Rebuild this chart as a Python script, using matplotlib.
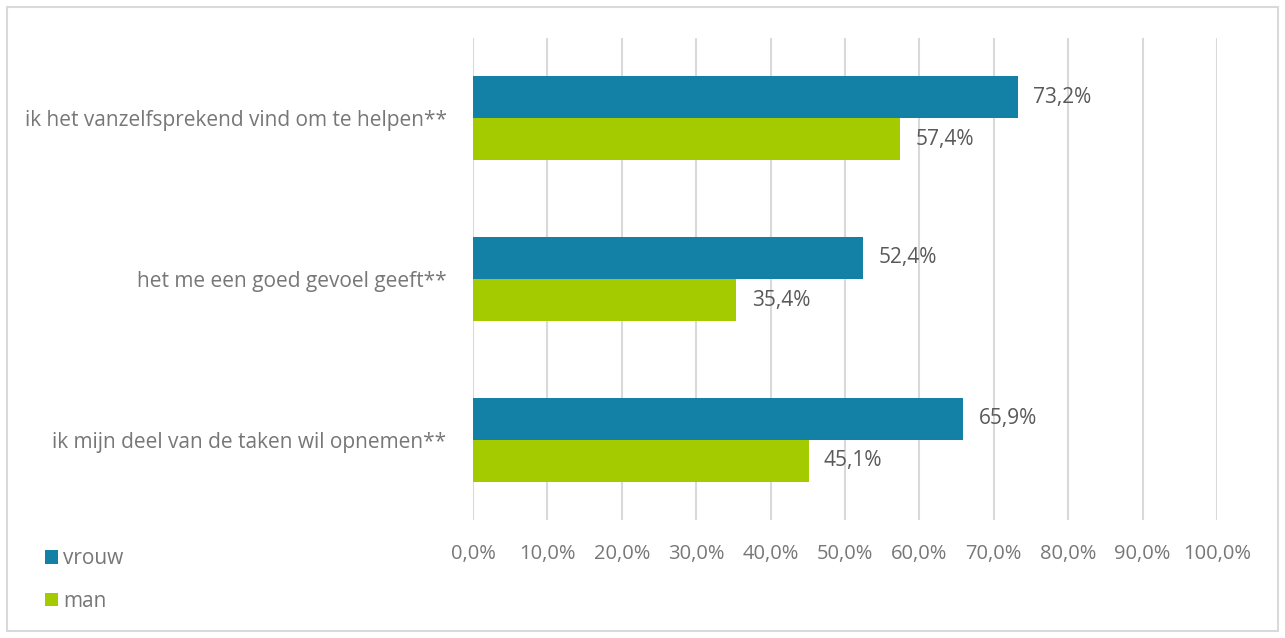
import matplotlib
matplotlib.use("Agg")
import matplotlib.pyplot as plt
from matplotlib.patches import Rectangle
from matplotlib.ticker import FuncFormatter
import numpy as np

categories = [
    "ik het vanzelfsprekend vind om te helpen**",
    "het me een goed gevoel geeft**",
    "ik mijn deel van de taken wil opnemen**",
]
vrouw = [73.2, 52.4, 65.9]
man = [57.4, 35.4, 45.1]
series_names = ["vrouw", "man"]
xticks = [0, 10, 20, 30, 40, 50, 60, 70, 80, 90, 100]

BLUE = "#1380a6"
GREEN = "#a3cb00"
VALUE = "#595959"
LABEL = "#777777"
GRID = "#d9d9d9"

plt.rcParams["font.family"] = ["Open Sans", "DejaVu Sans"]

W, H = 1285, 638
fig = plt.figure(figsize=(W / 100, H / 100), dpi=100)
ax = fig.add_axes([473 / W, 1 - 520 / H, (1217 - 473) / W, (520 - 38) / H])

y = np.arange(len(categories))
h = 0.262
b1 = ax.barh(y - h / 2, vrouw, height=h, color=BLUE, label=series_names[0], zorder=3)
b2 = ax.barh(y + h / 2, man, height=h, color=GREEN, label=series_names[1], zorder=3)

fmt = lambda v: f"{v:.1f}%".replace(".", ",")
for bars, vals in ((b1, vrouw), (b2, man)):
    for bar, v in zip(bars, vals):
        ax.annotate(fmt(v), (v, bar.get_y() + bar.get_height() / 2),
                    xytext=(11, 0), textcoords="offset points",
                    va="center", ha="left", fontsize=15, color=VALUE)

ax.set_xlim(0, 100)
ax.set_ylim(len(categories) - 0.5, -0.5)
ax.set_xticks(xticks)
ax.xaxis.set_major_formatter(FuncFormatter(lambda v, _: fmt(v)))
ax.set_yticks(y)
ax.set_yticklabels(categories)
ax.tick_params(axis="y", length=0, pad=19, labelsize=15, labelcolor=LABEL)
ax.tick_params(axis="x", length=0, pad=17, labelsize=14.5, labelcolor=LABEL)
ax.grid(axis="x", color=GRID, lw=1.5, zorder=0)
for s in ax.spines.values():
    s.set_visible(False)

# legend squares in the lower-left corner
ax.legend(handles=[b1, b2], loc="upper left", bbox_to_anchor=(37 / W, 1 - 540 / H),
          bbox_transform=fig.transFigure, frameon=False, fontsize=15,
          labelcolor=LABEL, handlelength=0.6, handleheight=0.6,
          handletextpad=0.25, labelspacing=1.05, borderaxespad=0)

fig.patches.append(Rectangle((7 / W, 7 / H), 1 - 14 / W, 1 - 14 / H,
                             transform=fig.transFigure, fill=False,
                             edgecolor=GRID, lw=1.5))
fig.savefig("out.png", dpi=100)
